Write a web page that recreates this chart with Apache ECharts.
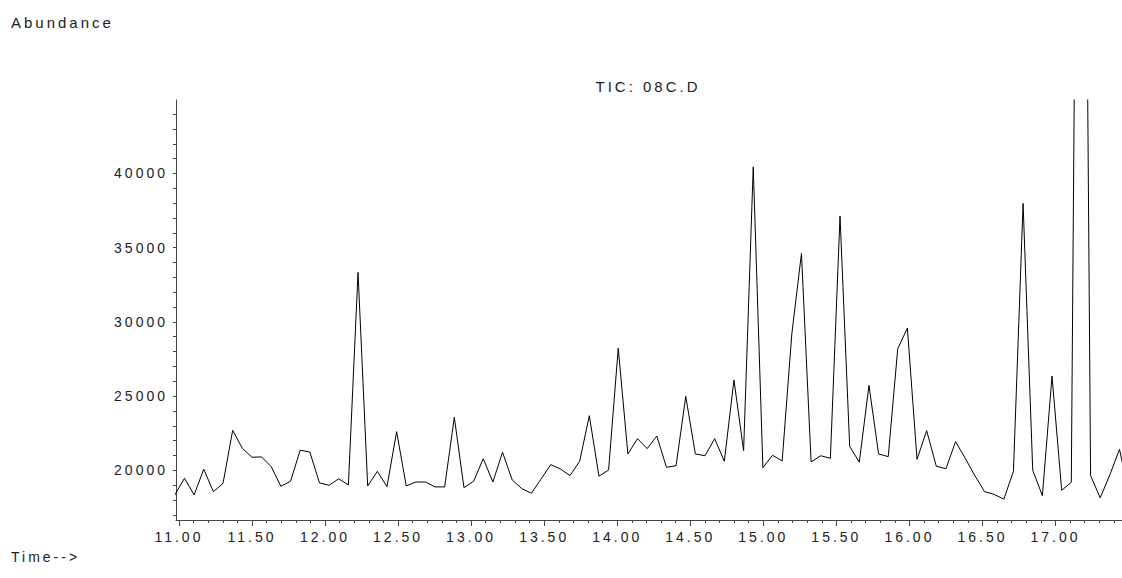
<!DOCTYPE html>
<html>
<head>
<meta charset="utf-8">
<script src="https://cdn.jsdelivr.net/npm/echarts@6/dist/echarts.min.js"></script>
<style>
  html, body { margin: 0; padding: 0; background: #fff; }
  #chart { width: 1122px; height: 578px; }
  /* 字间距：原图文字是拉开排的 */
  #chart svg text { letter-spacing: 3px; }
</style>
</head>
<body>
<div id="chart"></div>
<script>
// 采样时间 (min)
const times = [
  10.972, 11.038, 11.104, 11.170, 11.236, 11.302, 11.368, 11.434, 11.500, 11.566,
  11.632, 11.698, 11.764, 11.830, 11.896, 11.962, 12.028, 12.094, 12.160, 12.226,
  12.292, 12.358, 12.424, 12.490, 12.556, 12.621, 12.687, 12.753, 12.819, 12.885,
  12.951, 13.017, 13.083, 13.149, 13.215, 13.281, 13.347, 13.413, 13.479, 13.545,
  13.611, 13.677, 13.743, 13.809, 13.875, 13.941, 14.007, 14.073, 14.139, 14.205,
  14.271, 14.337, 14.403, 14.469, 14.535, 14.601, 14.667, 14.733, 14.799, 14.865,
  14.931, 14.997, 15.063, 15.129, 15.195, 15.261, 15.327, 15.393, 15.459, 15.525,
  15.591, 15.657, 15.723, 15.789, 15.855, 15.920, 15.986, 16.052, 16.118, 16.184,
  16.250, 16.316, 16.382, 16.448, 16.514, 16.580, 16.646, 16.712, 16.778, 16.844,
  16.910, 16.976, 17.042, 17.108, 17.174, 17.240, 17.306, 17.372, 17.438, 17.504
];
// 丰度 (TIC)
const abundance = [
  18340, 19460, 18340, 20070, 18560, 19120, 22690, 21480, 20880, 20900,
  20240, 18920, 19260, 21350, 21230, 19150, 18990, 19430, 19010, 33330,
  18940, 19930, 18900, 22600, 18940, 19210, 19210, 18880, 18880, 23570,
  18830, 19260, 20780, 19210, 21210, 19350, 18760, 18450, 19410, 20380,
  20090, 19640, 20610, 23680, 19600, 20020, 28220, 21100, 22130, 21460,
  22310, 20200, 20310, 24980, 21100, 20980, 22130, 20610, 26080, 21320,
  40440, 20180, 21010, 20630, 29190, 34610, 20560, 20980, 20810, 37130,
  21620, 20540, 25720, 21100, 20920, 28190, 29580, 20740, 22670, 20270,
  20110, 21930, 20810, 19640, 18560, 18380, 18050, 19930, 37980, 20000,
  18290, 26350, 18650, 19190, 105000, 19640, 18140, 19700, 21410, 18400
];
// 刻度
const xLabels = [11.0, 11.5, 12.0, 12.5, 13.0, 13.5, 14.0, 14.5, 15.0, 15.5, 16.0, 16.5, 17.0];
const yLabels = [20000, 25000, 30000, 35000, 40000];
const xMinorTicks = [];
for (let i = 110; i <= 174; i++) xMinorTicks.push(i / 10);
const yTicks = [];
for (let v = 17000; v <= 44000; v += 1000) yTicks.push(v);

const FONT = 'Liberation Sans';
const chart = echarts.init(document.getElementById('chart'), null, { renderer: 'svg' });

chart.setOption({
  animation: false,
  backgroundColor: '#fff',
  title: [
    { text: 'Abundance', left: 11, top: 15, padding: 0,
      textStyle: { fontFamily: FONT, fontSize: 15, fontWeight: 'normal', color: '#222' } },
    { text: 'TIC: 08C.D', left: 648, top: 79, padding: 0, textAlign: 'center',
      textStyle: { fontFamily: FONT, fontSize: 15, fontWeight: 'normal', color: '#222' } },
    { text: 'Time-->', left: 11, top: 550, padding: 0,
      textStyle: { fontFamily: FONT, fontSize: 14, fontWeight: 'normal', color: '#222' } }
  ],
  grid: { left: 176, right: 0, top: 100, bottom: 58, containLabel: false },
  xAxis: [
    {
      type: 'value', min: 10.98, max: 17.455,
      axisLine: { show: true, lineStyle: { color: '#444', width: 1 } },
      axisTick: { show: true, length: 3, customValues: xMinorTicks, lineStyle: { color: '#444' } },
      axisLabel: {
        customValues: xLabels, margin: 10,
        fontFamily: FONT, fontSize: 14, color: '#222',
        formatter: v => v.toFixed(2)
      },
      splitLine: { show: false }
    },
    {
      // 主刻度（长）
      type: 'value', min: 10.98, max: 17.455, position: 'bottom',
      axisLine: { show: false },
      axisTick: { show: true, length: 6, customValues: xLabels, lineStyle: { color: '#444' } },
      axisLabel: { show: false },
      splitLine: { show: false }
    }
  ],
  yAxis: {
    type: 'value', min: 16650, max: 44950,
    axisLine: { show: true, lineStyle: { color: '#444', width: 1 } },
    axisTick: { show: true, length: 3, customValues: yTicks, lineStyle: { color: '#444' } },
    axisLabel: {
      customValues: yLabels, margin: 8,
      fontFamily: FONT, fontSize: 14, color: '#222',
      formatter: v => String(v)
    },
    splitLine: { show: false }
  },
  series: [{
    type: 'line',
    xAxisIndex: 0,
    data: times.map((t, i) => [t, abundance[i]]),
    showSymbol: false,
    clip: true,
    lineStyle: { color: '#000', width: 1 }
  }]
});
</script>
</body>
</html>
